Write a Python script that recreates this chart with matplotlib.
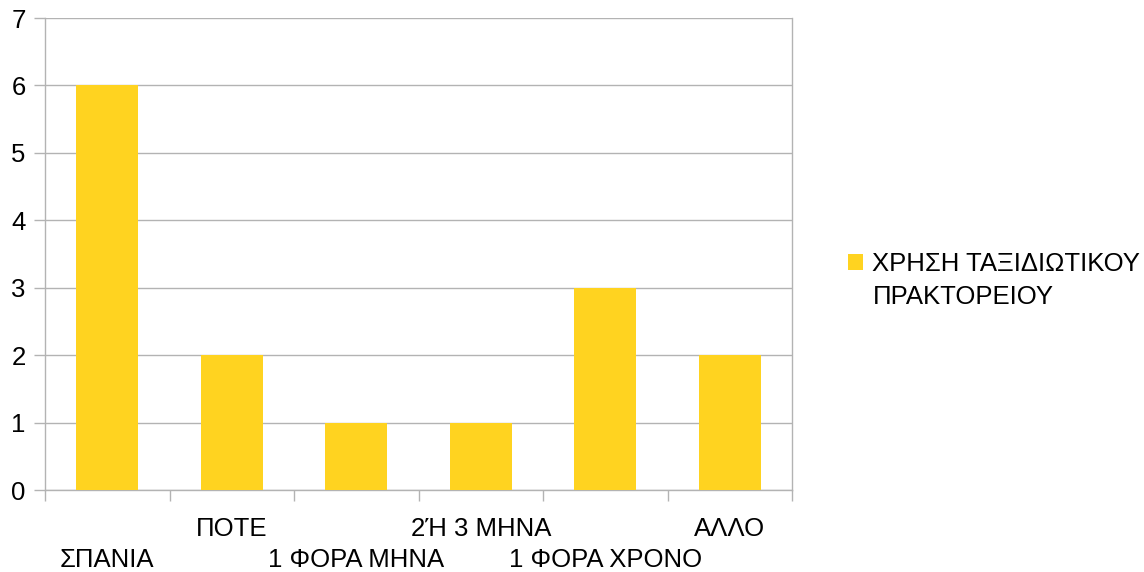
import matplotlib
matplotlib.use("Agg")
import matplotlib.pyplot as plt
import numpy as np

categories = ["ΣΠΑΝΙΑ", "ΠΟΤΕ", "1 ΦΟΡΑ ΜΗΝΑ", "2Ή 3 ΜΗΝΑ", "1 ΦΟΡΑ ΧΡΟΝΟ", "ΑΛΛΟ"]
values = [6, 2, 1, 1, 3, 2]
series_name = "ΧΡΗΣΗ ΤΑΞΙΔΙΩΤΙΚΟΥ\nΠΡΑΚΤΟΡΕΙΟΥ"
y_ticks = [0, 1, 2, 3, 4, 5, 6, 7]

plt.rcParams["font.family"] = ["Liberation Sans", "DejaVu Sans"]
plt.rcParams["font.size"] = 18.5

W, H = 1144, 572
fig = plt.figure(figsize=(W / 100, H / 100), dpi=100)
ax = fig.add_axes([45 / W, 1 - 490 / H, (792 - 45) / W, (490 - 18) / H])

grid_c = "#b3b3b3"
bar_c = "#ffd320"

x = np.arange(len(categories))
ax.bar(x, values, width=0.5, color=bar_c, label=series_name, zorder=3)

ax.set_xlim(-0.5, len(categories) - 0.5)
ax.set_ylim(0, 7)
ax.set_yticks(y_ticks)
ax.yaxis.grid(True, color=grid_c, linewidth=1)
ax.set_axisbelow(True)

# category boundaries as major ticks; labels alternate between two rows
ax.set_xticks(np.arange(len(categories) + 1) - 0.5)
ax.set_xticklabels([])
upper = x[1::2]
lower = x[0::2]
ax.set_xticks(upper, minor=True)
ax.set_xticklabels([categories[i] for i in upper], minor=True)
ax.tick_params(axis="x", which="major", length=8, color=grid_c, width=1)
ax.tick_params(axis="x", which="minor", length=0, pad=19.5)

sec = ax.secondary_xaxis("bottom")
sec.set_xticks(lower)
sec.set_xticklabels([categories[i] for i in lower])
sec.tick_params(axis="x", length=0, pad=41.5)
sec.spines["bottom"].set_visible(False)

ax.tick_params(axis="y", length=8, color=grid_c, width=1, pad=6)

for s in ["top", "right"]:
    ax.spines[s].set_visible(False)
for s in ["left", "bottom"]:
    ax.spines[s].set_color(grid_c)
    ax.spines[s].set_linewidth(1)
ax.plot([1, 1], [0, 1], transform=ax.transAxes, color=grid_c, lw=1, clip_on=False)

leg = ax.legend(loc="upper left", bbox_to_anchor=(848 / W, 1 - 252 / H),
                bbox_transform=fig.transFigure, frameon=False,
                handlelength=0.6, handleheight=0.6, handletextpad=0.35,
                borderpad=0, borderaxespad=0)
for t in leg.get_texts():
    t.set_linespacing(1.45)
# keep the colour square level with the first line of the label
h = leg.legend_handles[0]
h.set_y(h.get_y() + 13.5)

fig.savefig("out.png", dpi=100, facecolor="white")
